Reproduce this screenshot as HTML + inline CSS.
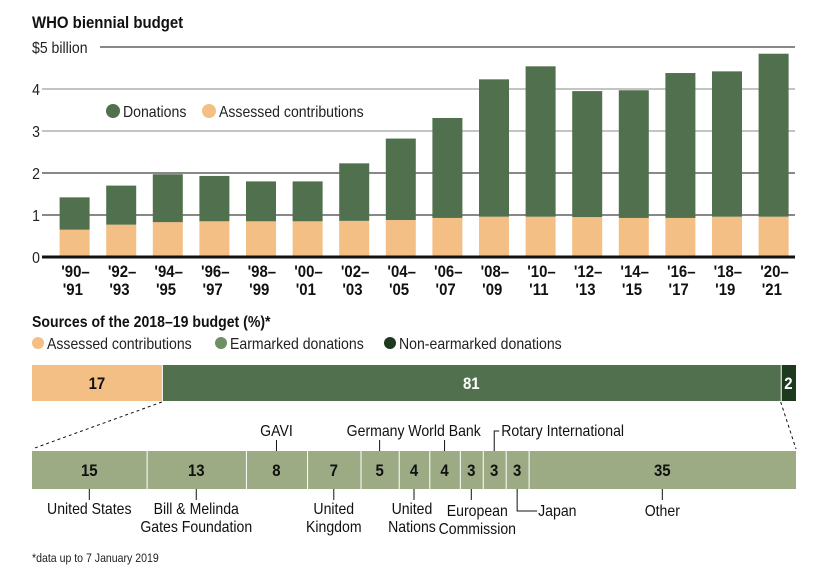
<!DOCTYPE html>
<html><head><meta charset="utf-8">
<style>
body{margin:0;background:#fff;}
svg{display:block;font-family:"Liberation Sans Narrow","Liberation Sans",sans-serif;}
</style></head>
<body>
<svg id="chart" width="828" height="581" viewBox="0 0 828 581">
<text x="32" y="28" font-size="17" font-weight="bold" fill="#111">WHO biennial budget</text>
<g id="grid"></g>
<g id="bars"></g>
<g>
<circle cx="113" cy="111" r="7" fill="#51704d"/>
<text x="123" y="117" font-size="16" fill="#222">Donations</text>
<circle cx="209" cy="111" r="7" fill="#f4bf85"/>
<text x="219" y="117" font-size="16" fill="#222">Assessed contributions</text>
</g>
<text x="32" y="327" font-size="16" font-weight="bold" fill="#111">Sources of the 2018–19 budget (%)*</text>
<g>
<circle cx="38" cy="343" r="6" fill="#f4bf85"/>
<text x="47" y="349" font-size="16" fill="#222">Assessed contributions</text>
<circle cx="221" cy="343" r="6" fill="#6f8f64"/>
<text x="230" y="349" font-size="16" fill="#222">Earmarked donations</text>
<circle cx="390" cy="343" r="6" fill="#1d3a1f"/>
<text x="399" y="349" font-size="16" fill="#222">Non-earmarked donations</text>
</g>
<g id="share"></g>
<g id="donors"></g>
<text x="32" y="562" font-size="12" fill="#222">*data up to 7 January 2019</text>
</svg>
<script>
const periods=["'90–|'91","'92–|'93","'94–|'95","'96–|'97","'98–|'99","'00–|'01","'02–|'03","'04–|'05","'06–|'07","'08–|'09","'10–|'11","'12–|'13","'14–|'15","'16–|'17","'18–|'19","'20–|'21"];
const assessed=[0.65,0.77,0.83,0.85,0.85,0.85,0.86,0.88,0.93,0.96,0.96,0.95,0.93,0.93,0.96,0.96];
const totals=[1.42,1.70,1.97,1.93,1.80,1.80,2.23,2.82,3.31,4.23,4.54,3.95,3.97,4.38,4.42,4.84];
const yTicks=[0,1,2,3,4,5];
const shareLabels=["17","81","2"];
const shareValues=[17,81,2];
const donorNames=["United States","Bill & Melinda|Gates Foundation","GAVI","United|Kingdom","Germany","United|Nations","World Bank","European|Commission","Rotary International","Japan","Other"];
const donorValues=[15,13,8,7,5,4,4,3,3,3,35];

const NS="http://www.w3.org/2000/svg";
function mk(tag,attrs,parent,txt){const e=document.createElementNS(NS,tag);for(const k in attrs)e.setAttribute(k,attrs[k]);if(txt!==undefined)e.textContent=txt;parent.appendChild(e);return e;}
const y=v=>257-v*42;
const x=i=>74.6+i*46.6;
const grid=document.getElementById('grid'),bars=document.getElementById('bars');
yTicks.forEach(t=>{
  const l=mk('line',{x1:t==5?100:42,x2:795,y1:y(t),y2:y(t),stroke:(t==3||t==4)?'#888':'#111','stroke-width':t==0?3:1},grid);
  
  
  const tx=mk('text',{x:t==5?32:40,y:y(t)+6,'font-size':16,fill:'#222','text-anchor':t==5?'start':'end'},grid,t==5?'$5 billion':String(t));
  
  
});
periods.forEach((p,i)=>{
  const a=mk('rect',{x:x(i)-15,y:y(assessed[i]),width:30,height:y(0)-y(assessed[i])-1.5,fill:'#f4bf85'},bars);
  
  
  const d=mk('rect',{x:x(i)-15,y:y(totals[i]),width:30,height:y(assessed[i])-y(totals[i]),fill:'#51704d'},bars);
  
  
  const parts=p.split('|');
  const t=mk('text',{x:x(i),y:277,'font-size':17,'font-weight':'bold','text-anchor':'middle',fill:'#111'},bars);
  
  
  mk('tspan',{x:x(i)+1,dy:0},t,parts[0]);
  mk('tspan',{x:x(i)-2,dy:18},t,parts[1]);
});
const share=document.getElementById('share');
const sx0=32,sw=764;
const shareColors=['#f4bf85','#51704d','#1d3a1f'],shareText=['#111','#fff','#fff'];
let acc=0;
shareValues.forEach((v,i)=>{
  const x0=sx0+acc/100*sw,w=v/100*sw;acc+=v;
  const r=mk('rect',{x:x0+(i?1:0),y:365,width:w-(i?1:0),height:36,fill:shareColors[i]},share);
  
  
  const t=mk('text',{x:x0+w/2,y:389,'font-size':17,'font-weight':'bold','text-anchor':'middle',fill:shareText[i]},share,shareLabels[i]);
  
  
});
const e0=sx0+shareValues[0]/100*sw,e1=sx0+(shareValues[0]+shareValues[1])/100*sw;
const dl1=mk('line',{x1:e0,y1:402,x2:32,y2:449,stroke:'#111','stroke-dasharray':'3,3'},share);


const dl2=mk('line',{x1:e1,y1:402,x2:796,y2:449,stroke:'#111','stroke-dasharray':'3,3'},share);


const donors=document.getElementById('donors');
const above=[2,4,6,8];
acc=0;
donorValues.forEach((v,i)=>{
  const x0=sx0+acc/100*sw,w=v/100*sw;acc+=v;
  const r=mk('rect',{x:x0+(i?1:0),y:451,width:w-(i?1:0),height:38,fill:'#9dab84'},donors);
  
  
  const cx=x0+w/2;
  const t=mk('text',{x:cx,y:476,'font-size':17,'font-weight':'bold','text-anchor':'middle',fill:'#111'},donors,String(v));
  
  
  const parts=donorNames[i].split('|');
  let lab;
  if(i==8){
    const ln=mk('polyline',{points:`${cx},451 ${cx},431 ${cx+5},431`,fill:'none',stroke:'#111'},donors);
    
    
    lab=mk('text',{x:cx+7,y:436,'font-size':16,fill:'#111'},donors,parts[0]);
  } else if(i==9){
    const ln=mk('polyline',{points:`${cx},489 ${cx},511 ${cx+20},511`,fill:'none',stroke:'#111'},donors);
    
    
    lab=mk('text',{x:cx+21,y:516,'font-size':16,fill:'#111'},donors,parts[0]);
  } else if(above.includes(i)){
    const ln=mk('line',{x1:cx,y1:451,x2:cx,y2:440,stroke:'#111'},donors);
    
    
    lab=mk('text',{x:cx-(i==4?4:0),y:436,'font-size':16,'text-anchor':'middle',fill:'#111'},donors,parts[0]);
  } else {
    const ln=mk('line',{x1:cx,y1:489,x2:cx,y2:500,stroke:'#111'},donors);
    
    
    const ty=(i==7||i==10)?516:514;
    const lx=cx+(i==5?-2:(i==7?6:0));
    lab=mk('text',{x:lx,y:ty,'font-size':16,'text-anchor':'middle',fill:'#111'},donors);
    parts.forEach((p,k)=>mk('tspan',{x:lx,dy:k?18:0},lab,p));
  }
  
  
});
document.querySelectorAll('#chart text').forEach(t=>{
  const ax=parseFloat(t.getAttribute('x'))||0;
  t.setAttribute('transform',`translate(${ax} 0) scale(0.88 1) translate(${-ax} 0)`);
});
</script>
</body></html>
